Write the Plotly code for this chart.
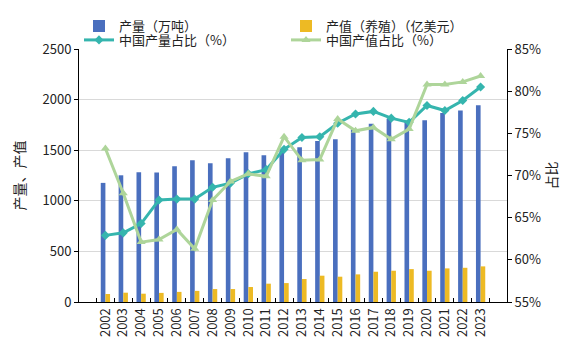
import plotly.graph_objects as go

years = [str(y) for y in range(2002, 2024)]
output_wt = [1177, 1252, 1282, 1280, 1341, 1400, 1371, 1420, 1479, 1450, 1500, 1528,
             1590, 1607, 1706, 1762, 1811, 1788, 1795, 1867, 1893, 1943]
value_usd = [79, 92, 82, 90, 100, 110, 128, 128, 148, 181, 187, 227,
             260, 250, 273, 299, 309, 325, 309, 332, 338, 352]
share_output = [62.9, 63.2, 64.3, 67.1, 67.2, 67.2, 68.6, 69.1, 70.2, 70.7, 73.1, 74.5,
                74.6, 76.2, 77.3, 77.6, 76.8, 76.3, 78.3, 77.7, 78.9, 80.5]
share_value = [73.2, 67.9, 62.1, 62.4, 63.6, 61.3, 67.1, 69.3, 70.2, 69.9, 74.6, 71.8,
               71.9, 76.7, 75.3, 75.7, 74.3, 75.5, 80.8, 80.8, 81.1, 81.8]

FONT = "Noto Sans CJK SC"

fig = go.Figure()
fig.add_trace(go.Bar(x=years, y=output_wt, name="产量（万吨）", legend="legend",
                     marker=dict(color="#4A6FBE", line=dict(width=0))))
fig.add_trace(go.Bar(x=years, y=value_usd, name="产值（养殖）（亿美元）", legend="legend",
                     marker=dict(color="#EDBA24", line=dict(width=0))))
fig.add_trace(go.Scatter(x=years, y=share_output, name="中国产量占比（%）", yaxis="y2",
                         legend="legend2", mode="lines+markers",
                         line=dict(color="#35B5AE", width=3),
                         marker=dict(symbol="diamond", size=7, color="#35B5AE")))
fig.add_trace(go.Scatter(x=years, y=share_value, name="中国产值占比（%）", yaxis="y2",
                         legend="legend2", mode="lines+markers",
                         line=dict(color="#AED59A", width=3),
                         marker=dict(symbol="triangle-up", size=8, color="#AED59A")))

legend_common = dict(orientation="h", x=0.0, xref="paper", yref="paper",
                     xanchor="left", yanchor="top",
                     entrywidth=162, entrywidthmode="pixels",
                     font=dict(family=FONT, size=13, color="#222"),
                     bgcolor="rgba(0,0,0,0)", borderwidth=0, tracegroupgap=0)

fig.update_layout(
    template="none",
    width=569, height=364,
    margin=dict(l=79, r=62, t=49, b=62, autoexpand=False),
    paper_bgcolor="white", plot_bgcolor="white",
    font=dict(family=FONT, size=13, color="#222"),
    barmode="group", bargap=0.48, bargroupgap=0.0,
    showlegend=True,
    legend=dict(legend_common, y=1.15),
    legend2=dict(legend_common, y=1.095),
    xaxis=dict(type="category", tickangle=-90, tickson="boundaries",
               ticks="inside", ticklen=4, tickcolor="#000", automargin=False,
               showline=True, linecolor="#000", linewidth=1,
               tickfont=dict(family=FONT, size=13, color="#222"), showgrid=False),
    yaxis=dict(range=[0, 2500], dtick=500, showgrid=True, gridcolor="#D9D9D9", gridwidth=1,
               showline=True, linecolor="#000", linewidth=1, automargin=False,
               ticks="outside", ticklen=4, tickcolor="#000",
               title=dict(text="产量、产值", font=dict(family=FONT, size=14, color="#222"), standoff=13),
               tickfont=dict(family=FONT, size=13, color="#222"), zeroline=False),
    yaxis2=dict(range=[55, 85], dtick=5, overlaying="y", side="right",
                ticksuffix="%", showgrid=False, automargin=False,
                showline=True, linecolor="#000", linewidth=1,
                ticks="outside", ticklen=4, tickcolor="#000",
                title=dict(text="占比", font=dict(family=FONT, size=14, color="#222"), standoff=6),
                tickfont=dict(family=FONT, size=13, color="#222"), zeroline=False),
)

fig.write_html("out.html", config={"displayModeBar": False},
               post_script="document.body.style.margin='0';document.body.style.padding='0';")
